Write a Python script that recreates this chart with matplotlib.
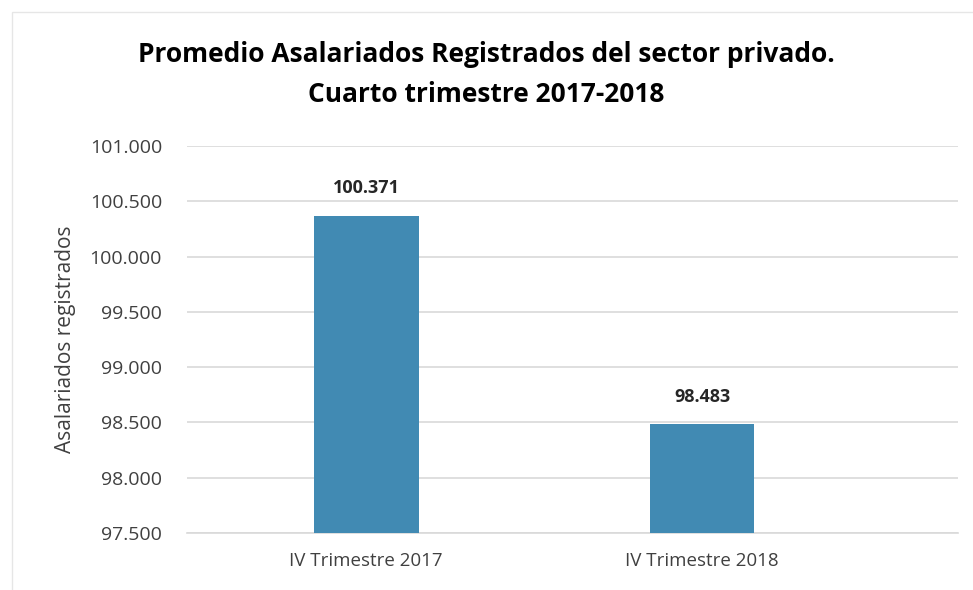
import matplotlib.pyplot as plt
from matplotlib.patches import Rectangle
from matplotlib.ticker import FuncFormatter

# Data
categories = ['IV Trimestre 2017', 'IV Trimestre 2018']
values = [100371, 98483]
y_ticks = [97500, 98000, 98500, 99000, 99500, 100000, 100500, 101000]

bar_color = '#418AB3'
grid_color = '#D9D9D9'
text_color = '#404040'

plt.rcParams['font.family'] = ['Open Sans', 'DejaVu Sans']

fig = plt.figure(figsize=(9.73, 5.90), dpi=100)
ax = fig.add_axes([187 / 973, 1 - 533 / 590, (958 - 187) / 973, (533 - 146) / 590])

# Chart frame (light gray border, top and left visible)
frame = Rectangle((12 / 973, -0.1), 1.1, 1 - 12 / 590 + 0.1, transform=fig.transFigure,
                  fill=False, edgecolor='#E6E6E6', linewidth=1, zorder=0)
fig.patches.append(frame)

x = list(range(len(categories)))
bars = ax.bar(x, values, width=0.3125, color=bar_color, zorder=3)

ax.set_xlim(-0.533, 1.762)
ax.set_ylim(y_ticks[0], y_ticks[-1])
ax.set_yticks(y_ticks)
ax.yaxis.set_major_formatter(FuncFormatter(lambda v, p: f'{int(v):,}'.replace(',', '.')))
ax.set_xticks(x)
ax.set_xticklabels(categories)

ax.grid(axis='y', color=grid_color, linewidth=1.2, zorder=0)
ax.tick_params(axis='both', length=0, colors=text_color)
ax.tick_params(axis='x', pad=14, labelsize=13.5)
ax.tick_params(axis='y', pad=18, labelsize=14)
for s in ['top', 'right', 'left']:
    ax.spines[s].set_visible(False)
ax.spines['bottom'].set_color(grid_color)
ax.spines['bottom'].set_linewidth(1.2)

for b, v in zip(bars, values):
    ax.annotate(f'{v:,}'.replace(',', '.'), (b.get_x() + b.get_width() / 2, v),
                xytext=(0, 13), textcoords='offset points', ha='center', va='bottom',
                fontsize=13, fontweight='bold', color='#262626')

ax.set_ylabel('Asalariados registrados', fontsize=15, color=text_color, labelpad=10)

fig.text(0.5, 1 - 55 / 590, 'Promedio Asalariados Registrados del sector privado.',
         ha='center', va='center', fontsize=19, fontweight='bold', color='black')
fig.text(0.5, 1 - 95 / 590, 'Cuarto trimestre 2017-2018',
         ha='center', va='center', fontsize=19, fontweight='bold', color='black')

fig.savefig('out.png', dpi=100, facecolor='white')
